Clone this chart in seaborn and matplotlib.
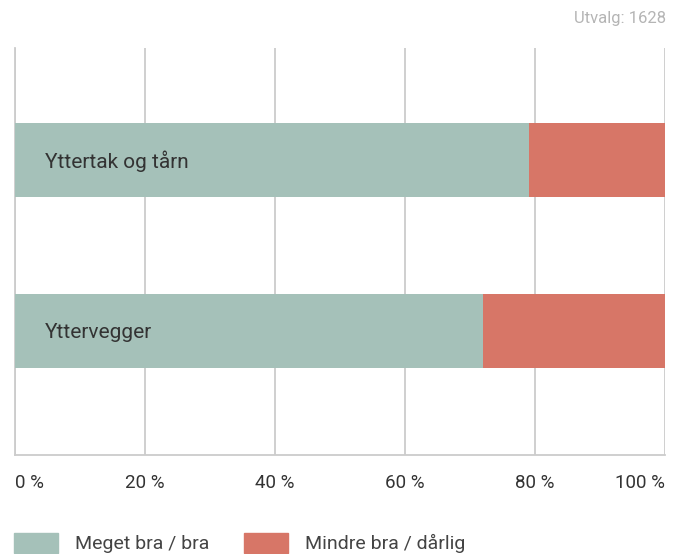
import pandas as pd
import matplotlib
matplotlib.use("Agg")
import matplotlib.pyplot as plt
import matplotlib.patches as mpatches
import seaborn as sns

categories = ["Yttertak og tårn", "Yttervegger"]
meget_bra = [79, 72]
mindre_bra = [21, 28]
series_names = ["Meget bra / bra", "Mindre bra / dårlig"]
tick_values = [0, 20, 40, 60, 80, 100]
tick_labels = ["0 %", "20 %", "40 %", "60 %", "80 %", "100 %"]
sample_note = "Utvalg: 1628"

GREEN = "#a5c1b9"
RED = "#d77667"
GRID = "#cccccc"
TEXT = "#333333"

sns.set_style("white")
plt.rcParams["font.family"] = ["Roboto", "DejaVu Sans"]

df = pd.DataFrame({
    "kategori": categories,
    "gronn": meget_bra,
    "total": [a + b for a, b in zip(meget_bra, mindre_bra)],
})

fig = plt.figure(figsize=(6.84, 5.54), dpi=100)
ax = fig.add_axes([15 / 684, 99 / 554, 650 / 684, 407 / 554])

# stacked: draw total in red, then green part on top
sns.barplot(data=df, x="total", y="kategori", orient="h", color=RED,
            width=0.435, saturation=1, ax=ax, zorder=3)
sns.barplot(data=df, x="gronn", y="kategori", orient="h", color=GREEN,
            width=0.435, saturation=1, ax=ax, zorder=3)
for p in ax.patches:
    p.set_linewidth(0)

ax.set_xlim(0, 100)
ax.set_ylim(1.725, -0.655)
ax.set_xticks(tick_values)
ax.set_xticklabels(tick_labels, fontsize=13.5, color=TEXT)
labels = ax.get_xticklabels()
labels[0].set_horizontalalignment("left")
labels[-1].set_horizontalalignment("right")
ax.tick_params(axis="x", length=0, pad=14)
ax.set_yticks([])
ax.set_xlabel("")
ax.set_ylabel("")

ax.grid(axis="x", color=GRID, linewidth=1.3, zorder=0)
for side in ["top", "right"]:
    ax.spines[side].set_visible(False)
for side in ["left", "bottom"]:
    ax.spines[side].set_color(GRID)
    ax.spines[side].set_linewidth(1.3)

for i, name in enumerate(categories):
    ax.text(4.6, i + 0.01, name, va="center", ha="left", fontsize=15, color=TEXT, zorder=4)

fig.text(666 / 684, 1 - 19 / 554, sample_note, ha="right", va="center",
         fontsize=12, color="#b5b5b5")

handles = [mpatches.Patch(color=GREEN, label=series_names[0]),
           mpatches.Patch(color=RED, label=series_names[1])]
fig.legend(handles=handles, loc="center left", bbox_to_anchor=(14 / 684, 11 / 554),
           ncol=2, frameon=False, fontsize=14, handlelength=2.27, handleheight=1.25,
           columnspacing=1.75, handletextpad=0.88, borderpad=0, borderaxespad=0,
           labelcolor="#444444")

fig.savefig("out.png", dpi=100)
